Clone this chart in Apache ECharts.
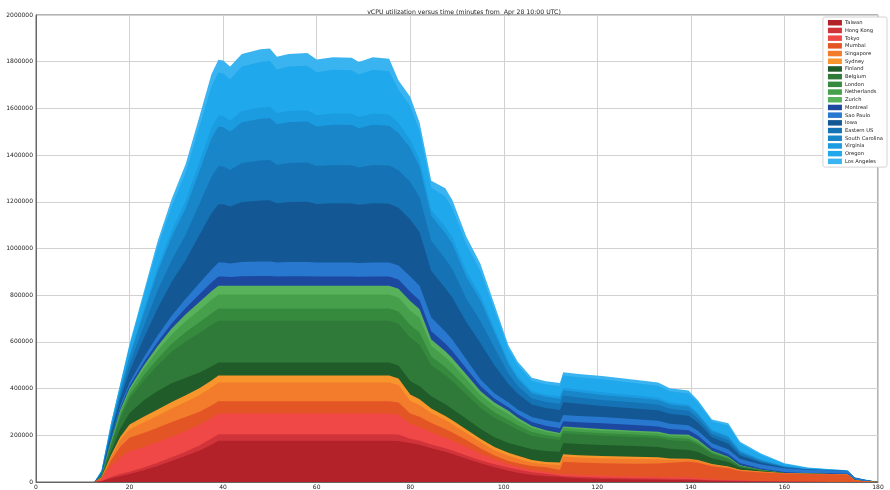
<!DOCTYPE html>
<html>
<head>
<meta charset="utf-8">
<title>vCPU utilization</title>
<script src="https://cdn.jsdelivr.net/npm/echarts@6/dist/echarts.min.js"></script>
<style>
  html, body { margin: 0; padding: 0; background: #fff; }
  #chart { width: 890px; height: 490px; }
</style>
</head>
<body>
<div id="chart"></div>
<script>
// minutes from Apr 28 10:00 UTC
const minutes = [0, 12.5, 14, 16, 18, 20, 23, 26, 29, 32, 35, 37.5,
  39, 40, 41.5, 44, 48, 50, 51.5, 54, 58, 60, 63.5, 67.5, 69, 72, 75.5,
  77.5, 80, 82, 84.5, 87.5, 89, 92, 95, 98, 101, 103, 106, 109, 112,
  112.7, 116, 121, 128, 133, 135.5, 139.5, 141.5, 144.5, 148, 150.5, 155, 160, 165, 170, 173.5, 175, 177, 180]

// vCPUs per region, in thousands
const taiwan = [0, 0, 3, 15, 25, 34, 50, 68, 90, 112, 135, 160,
  177, 177, 177, 177, 177, 177, 177, 177, 177, 177, 177, 177, 177, 177, 177,
  176, 167, 160, 145, 130, 120, 100, 80, 63, 48, 40, 30, 25, 23,
  20, 16, 13, 11, 10, 9, 8, 7, 5, 4, 3, 2, 1, 1, 0, 0, 0, 0, 0]
const hongKong = [0, 0, 1, 6, 9, 10, 12, 14, 16, 18, 22, 26,
  28, 28, 28, 28, 28, 28, 28, 28, 28, 28, 28, 28, 28, 28, 28,
  27, 18, 17, 16, 15, 15, 14, 13, 13, 14, 13, 12, 10, 5,
  6, 6, 6, 5, 5, 5, 5, 4, 3, 2, 2, 1, 1, 0, 0, 0, 0, 0, 0]
const tokyo = [0, 0, 8, 45, 72, 88, 88, 88, 88, 88, 88, 88,
  88, 88, 88, 88, 88, 88, 88, 88, 88, 88, 88, 88, 88, 88, 88,
  85, 65, 60, 52, 45, 42, 36, 28, 20, 14, 11, 9, 8, 6,
  8, 8, 8, 7, 6, 6, 7, 6, 4, 3, 2, 1, 1, 0, 0, 0, 0, 0, 0]
const mumbai = [0, 0, 4, 25, 45, 57, 60, 62, 63, 60, 56, 54,
  53, 53, 53, 53, 53, 53, 53, 53, 53, 53, 53, 53, 53, 53, 53,
  52, 43, 42, 40, 37, 35, 30, 24, 17, 14, 16, 18, 20, 17,
  53, 53, 53, 55, 58, 62, 67, 65, 55, 50, 40, 37, 33, 33, 33, 31, 8, 3, 0]
const singapore = [0, 0, 2, 15, 28, 37, 45, 52, 58, 65, 72, 77,
  80, 80, 80, 80, 80, 80, 80, 80, 80, 80, 80, 80, 80, 80, 80,
  75, 55, 50, 42, 38, 35, 30, 26, 23, 22, 20, 15, 13, 22,
  22, 22, 21, 20, 18, 12, 10, 9, 7, 5, 4, 3, 1, 1, 1, 1, 1, 0, 0]
const sydney = [0, 0, 1, 8, 14, 20, 24, 26, 28, 29, 30, 30,
  30, 30, 30, 30, 30, 30, 30, 30, 30, 30, 30, 30, 30, 30, 30,
  28, 27, 25, 20, 18, 17, 15, 14, 14, 13, 12, 10, 10, 10,
  10, 10, 10, 10, 9, 7, 3, 3, 3, 2, 1, 1, 1, 0, 0, 0, 0, 0, 0]
const finland = [0, 0, 2, 15, 35, 50, 70, 80, 80, 75, 66, 60,
  56, 56, 56, 56, 56, 56, 56, 56, 56, 56, 56, 56, 56, 56, 56,
  56, 58, 56, 52, 50, 49, 46, 43, 42, 42, 44, 46, 47, 47,
  48, 48, 47, 46, 44, 41, 37, 35, 25, 20, 10, 3, 1, 0, 0, 0, 0, 0, 0]
const belgium = [0, 0, 3, 25, 45, 60, 85, 110, 135, 155, 170, 177,
  179, 179, 179, 179, 179, 179, 179, 179, 179, 179, 179, 179, 179, 179, 179,
  179, 185, 178, 133, 124, 118, 104, 90, 83, 78, 67, 58, 54, 50,
  42, 41, 40, 39, 38, 37, 38, 30, 18, 12, 5, 2, 0, 0, 0, 0, 0, 0, 0]
const london = [0, 0, 1, 6, 12, 16, 22, 28, 34, 40, 46, 50,
  52, 52, 52, 52, 52, 52, 52, 52, 52, 52, 52, 52, 52, 52, 52,
  52, 54, 52, 38, 35, 34, 30, 26, 24, 22, 20, 16, 14, 12,
  11, 11, 11, 10, 10, 10, 10, 8, 5, 4, 2, 1, 0, 0, 0, 0, 0, 0, 0]
const netherlands = [0, 0, 1, 8, 14, 18, 26, 34, 40, 46, 53, 58,
  60, 60, 60, 60, 60, 60, 60, 60, 60, 60, 60, 60, 60, 60, 60,
  60, 63, 62, 45, 42, 40, 35, 29, 26, 24, 20, 17, 14, 12,
  12, 12, 12, 11, 11, 10, 11, 9, 6, 4, 2, 1, 0, 0, 0, 0, 0, 0, 0]
const zurich = [0, 0, 1, 5, 9, 12, 16, 20, 25, 30, 34, 37,
  38, 38, 38, 38, 38, 38, 38, 38, 38, 38, 38, 38, 38, 38, 38,
  38, 40, 38, 27, 26, 25, 20, 17, 15, 14, 12, 9, 7, 6,
  6, 6, 6, 6, 6, 6, 6, 5, 3, 2, 1, 0, 0, 0, 0, 0, 0, 0, 0]
const montreal = [0, 0, 1, 5, 8, 10, 14, 18, 22, 27, 33, 37,
  39, 39, 37, 40, 41, 41, 39, 40, 40, 39, 39, 39, 38, 39, 39,
  39, 40, 38, 36, 33, 31, 26, 22, 18, 15, 15, 17, 19, 20,
  22, 23, 25, 24, 23, 22, 20, 18, 14, 12, 9, 6, 4, 3, 3, 3, 2, 1, 0]
const saoPaulo = [0, 0, 1, 5, 10, 14, 20, 27, 33, 40, 48, 55,
  60, 60, 58, 61, 62, 62, 60, 61, 61, 60, 60, 60, 59, 60, 60,
  60, 65, 62, 59, 52, 49, 39, 28, 22, 20, 20, 21, 23, 25,
  27, 27, 26, 25, 24, 23, 21, 20, 18, 19, 18, 17, 16, 14, 13, 12, 7, 6, 0]
const iowa = [0, 0, 6, 20, 28, 48, 81, 117, 144, 166, 207, 242,
  250, 250, 244, 257, 262, 263, 254, 257, 258, 251, 254, 253, 249, 254, 252,
  248, 245, 230, 200, 185, 180, 160, 155, 120, 80, 68, 54, 53, 53,
  55, 52, 47, 46, 45, 42, 41, 36, 26, 25, 15, 8, 3, 1, 0, 0, 0, 0, 0]
const easternUS = [0, 0, 4, 13, 18, 31, 52, 76, 94, 108, 134, 156,
  162, 161, 156, 167, 171, 172, 165, 167, 168, 162, 164, 164, 160, 164, 163,
  160, 160, 150, 128, 125, 122, 100, 95, 75, 45, 33, 26, 26, 27,
  28, 27, 26, 25, 24, 22, 21, 18, 14, 15, 9, 5, 2, 1, 1, 0, 0, 0, 0]
const southCarolina = [0, 0, 4, 13, 19, 32, 55, 79, 98, 113, 141, 164,
  170, 169, 164, 175, 179, 180, 173, 175, 176, 170, 172, 172, 168, 172, 171,
  160, 147, 130, 107, 110, 108, 93, 88, 65, 40, 30, 22, 22, 22,
  23, 23, 22, 21, 20, 18, 18, 16, 12, 13, 8, 5, 2, 1, 0, 0, 0, 0, 0]
const virginia = [0, 0, 1, 4, 5, 9, 16, 22, 28, 32, 39, 46,
  48, 48, 48, 48, 48, 48, 48, 48, 48, 48, 48, 48, 48, 48, 48,
  42, 35, 30, 25, 28, 28, 25, 22, 18, 12, 11, 10, 9, 10,
  11, 11, 11, 10, 10, 9, 9, 8, 6, 6, 4, 3, 2, 1, 1, 0, 0, 0, 0]
const oregon = [0, 0, 4, 14, 20, 36, 59, 85, 105, 122, 152, 177,
  184, 183, 177, 190, 195, 196, 187, 190, 191, 184, 187, 186, 182, 187, 185,
  143, 143, 123, 95, 130, 125, 115, 105, 80, 52, 48, 44, 45, 44,
  52, 53, 56, 53, 51, 48, 47, 42, 35, 44, 29, 20, 9, 4, 2, 2, 1, 1, 0]
const losAngeles = [0, 0, 2, 3, 4, 10, 17, 25, 31, 36, 44, 52,
  54, 54, 54, 54, 54, 54, 54, 54, 54, 54, 54, 54, 54, 54, 54,
  40, 40, 37, 30, 35, 35, 32, 30, 22, 16, 15, 13, 13, 13,
  14, 14, 14, 14, 14, 13, 13, 11, 9, 10, 8, 6, 3, 2, 1, 1, 1, 1, 0]

const regions = [
  ['Taiwan', taiwan, '#b22228'],
  ['Hong Kong', hongKong, '#d1333b'],
  ['Tokyo', tokyo, '#f04846'],
  ['Mumbai', mumbai, '#e45526'],
  ['Singapore', singapore, '#f27b2c'],
  ['Sydney', sydney, '#f8952c'],
  ['Finland', finland, '#1f5c2a'],
  ['Belgium', belgium, '#2f7a38'],
  ['London', london, '#368a3e'],
  ['Netherlands', netherlands, '#46a04b'],
  ['Zurich', zurich, '#58b25b'],
  ['Montreal', montreal, '#1c48a0'],
  ['Sao Paulo', saoPaulo, '#2878d0'],
  ['Iowa', iowa, '#135894'],
  ['Eastern US', easternUS, '#1573b5'],
  ['South Carolina', southCarolina, '#1886c8'],
  ['Virginia', virginia, '#1c9ce0'],
  ['Oregon', oregon, '#1fa8ec'],
  ['Los Angeles', losAngeles, '#3ab4f0']
]

const chart = echarts.init(document.getElementById('chart'))

// running totals: each layer is filled down to the axis and the
// lower layers are painted over it, so it looks stacked
let running = minutes.map(() => 0)
const series = regions.map(([name, values, color], k) => {
  running = running.map((s, i) => s + values[i] * 1000)
  return {
    name,
    type: 'line',
    data: minutes.map((m, i) => [m, running[i]]),
    z: 2 + (regions.length - k) * 0.01,
    showSymbol: false,
    symbol: 'none',
    lineStyle: { width: 0 },
    itemStyle: { color },
    areaStyle: { color, opacity: 1, origin: 'start' },
    emphasis: { disabled: true }
  }
}).reverse()

chart.setOption({
  animation: false,
  title: {
    text: 'vCPU utilization versus time (minutes from  Apr 28 10:00 UTC)',
    left: 459,
    textAlign: 'center',
    top: 4,
    textStyle: { fontSize: 6.2, fontWeight: 'normal', color: '#222', fontFamily: 'DejaVu Sans' }
  },
  legend: {
    orient: 'vertical',
    right: 3,
    top: 17,
    icon: 'rect',
    itemWidth: 14,
    itemHeight: 5.5,
    itemGap: 2.2,
    padding: [3, 4, 3, 5],
    borderColor: '#d4d4d4',
    borderWidth: 1,
    borderRadius: 2,
    backgroundColor: '#fff',
    textStyle: { fontSize: 5.2, color: '#222', fontFamily: 'DejaVu Sans', padding: [0, 0, 0, -2] },
    data: regions.map(r => r[0])
  },
  grid: {
    left: 36,
    right: 12,
    top: 15,
    bottom: 8,
    show: true,
    borderColor: '#666',
    borderWidth: 1
  },
  xAxis: {
    type: 'value',
    min: 0,
    max: 180,
    interval: 20,
    axisLine: { lineStyle: { color: '#666' } },
    axisTick: { show: false },
    axisLabel: { fontSize: 6, color: '#222', margin: 2, fontFamily: 'DejaVu Sans' },
    splitLine: { lineStyle: { color: '#d2d2d2', width: 1 } }
  },
  yAxis: {
    type: 'value',
    min: 0,
    max: 2000000,
    interval: 200000,
    axisLine: { show: true, lineStyle: { color: '#666' } },
    axisTick: { show: false },
    axisLabel: { fontSize: 6, color: '#222', margin: 3, fontFamily: 'DejaVu Sans', formatter: v => String(v) },
    splitLine: { lineStyle: { color: '#d2d2d2', width: 1 } }
  },
  series
})
</script>
</body>
</html>
